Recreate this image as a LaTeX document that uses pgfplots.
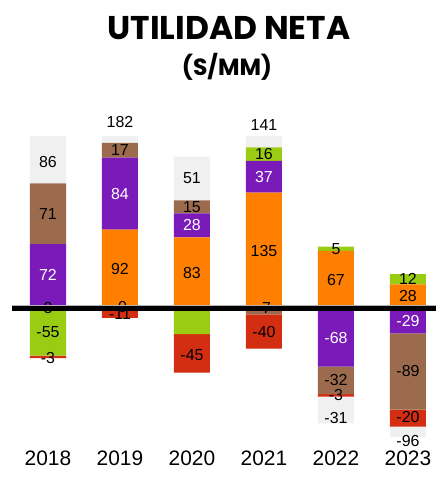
\documentclass[border=0pt]{standalone}
\usepackage{fontspec}
\setmainfont{Liberation Sans}
\newfontfamily\titlefont{Poppins}
\usepackage{pgfplots}
\usepackage{pgfplotstable}
\pgfplotsset{compat=1.18}
\definecolor{cOrange}{HTML}{FF7F00}
\definecolor{cPurple}{HTML}{7A1AB8}
\definecolor{cBrown}{HTML}{9C6B4E}
\definecolor{cGreen}{HTML}{99CC12}
\definecolor{cRed}{HTML}{D42E12}
\definecolor{cGray}{HTML}{F0F0F0}
\pgfplotstableread{
x orange purple brown green red total
0 3 72 71 -55 -3 86
1 92 84 17 0 -11 182
2 83 28 15 -30 -45 51
3 135 37 -7 16 -40 141
4 67 -68 -32 5 -3 -31
5 28 -29 -89 12 -20 -96
}\data
\pgfplotsset{
  geom/.style={
    at={(12bp,41bp)}, anchor=south west,
    scale only axis, width=424bp, height=300bp,
    xmin=-0.5, xmax=5.389, ymin=-150, ymax=200,
    axis line style={draw=none}, tick style={draw=none},
    ytick=\empty,
  },
  base/.style={geom, ybar stacked, bar width=36bp},
  seg/.style={fill=#1, draw=none},
}
\begin{document}
\begin{tikzpicture}
\useasboundingbox (0,0) rectangle (436bp,478bp);
\node[font=\titlefont\bfseries\fontsize{33}{33}\selectfont] at (229bp,450bp) {UTILIDAD NETA};
\node[font=\titlefont\bfseries\fontsize{23.5}{23.5}\selectfont] at (227bp,411bp) {(S/MM)};
% positive parts
\begin{axis}[base,
  xtick={0,1,2,3,4,5},
  xticklabels={2018,2019,2020,2021,2022,2023},
  xticklabel style={font=\fontsize{21}{21}\selectfont, anchor=center, yshift=-21bp},
]
\addplot+[seg=cOrange] table[x=x, y expr={max(\thisrow{orange},0)}] {\data};
\addplot+[seg=cPurple] table[x=x, y expr={max(\thisrow{purple},0)}] {\data};
\addplot+[seg=cBrown] table[x=x, y expr={max(\thisrow{brown},0)}] {\data};
\addplot+[seg=cGreen] table[x=x, y expr={max(\thisrow{green},0)}] {\data};
\addplot+[seg=cRed] table[x=x, y expr={max(\thisrow{red},0)}] {\data};
\addplot+[seg=cGray] table[x=x, y expr={max(\thisrow{total},0)}] {\data};
\end{axis}
% negative parts
\begin{axis}[base, xtick=\empty]
\addplot+[seg=cOrange] table[x=x, y expr={min(\thisrow{orange},0)}] {\data};
\addplot+[seg=cPurple] table[x=x, y expr={min(\thisrow{purple},0)}] {\data};
\addplot+[seg=cBrown] table[x=x, y expr={min(\thisrow{brown},0)}] {\data};
\addplot+[seg=cGreen] table[x=x, y expr={min(\thisrow{green},0)}] {\data};
\addplot+[seg=cRed] table[x=x, y expr={min(\thisrow{red},0)}] {\data};
\addplot+[seg=cGray] table[x=x, y expr={min(\thisrow{total},0)}] {\data};
\end{axis}
% labels and zero line
\begin{axis}[geom, xtick=\empty, clip mode=individual]
\begin{scope}[every node/.style={font=\fontsize{16}{16}\selectfont, inner sep=0pt}]
% 2018
\node at (axis cs:0,171) {86};
\node at (axis cs:0,110.5) {71};
\node[white] at (axis cs:0,39) {72};
\node at (axis cs:0,1) {3};
\node at (axis cs:0,-27.5) {-55};
\node at (axis cs:0,-58) {-3};
% 2019
\node at (axis cs:1,217) {182};
\node at (axis cs:1,184.5) {17};
\node[white] at (axis cs:1,134) {84};
\node at (axis cs:1,46) {92};
\node at (axis cs:1,2) {-0};
\node at (axis cs:1,-6) {-11};
% 2020
\node at (axis cs:2,151.5) {51};
\node at (axis cs:2,118.5) {15};
\node[white] at (axis cs:2,97) {28};
\node at (axis cs:2,41.5) {83};
\node at (axis cs:2,-55) {-45};
% 2021
\node at (axis cs:3,214) {141};
\node at (axis cs:3,180) {16};
\node[white] at (axis cs:3,153.5) {37};
\node at (axis cs:3,67.5) {135};
\node at (axis cs:3,0) {-7};
\node at (axis cs:3,-27) {-40};
% 2022
\node at (axis cs:4,69.5) {5};
\node at (axis cs:4,33.5) {67};
\node[white] at (axis cs:4,-34) {-68};
\node at (axis cs:4,-84) {-32};
\node at (axis cs:4,-101) {-3};
\node at (axis cs:4,-128) {-31};
% 2023
\node at (axis cs:5,34) {12};
\node at (axis cs:5,14) {28};
\node[white] at (axis cs:5,-14.5) {-29};
\node at (axis cs:5,-73.5) {-89};
\node at (axis cs:5,-127) {-20};
\node at (axis cs:5,-155) {-96};
\end{scope}
\addplot[draw=gray!60, line width=6bp, mark=none] coordinates {(-0.5,0) (5.389,0)};
\addplot[draw=black, line width=4.5bp, mark=none] coordinates {(-0.5,0) (5.389,0)};
\end{axis}
\end{tikzpicture}
\end{document}
